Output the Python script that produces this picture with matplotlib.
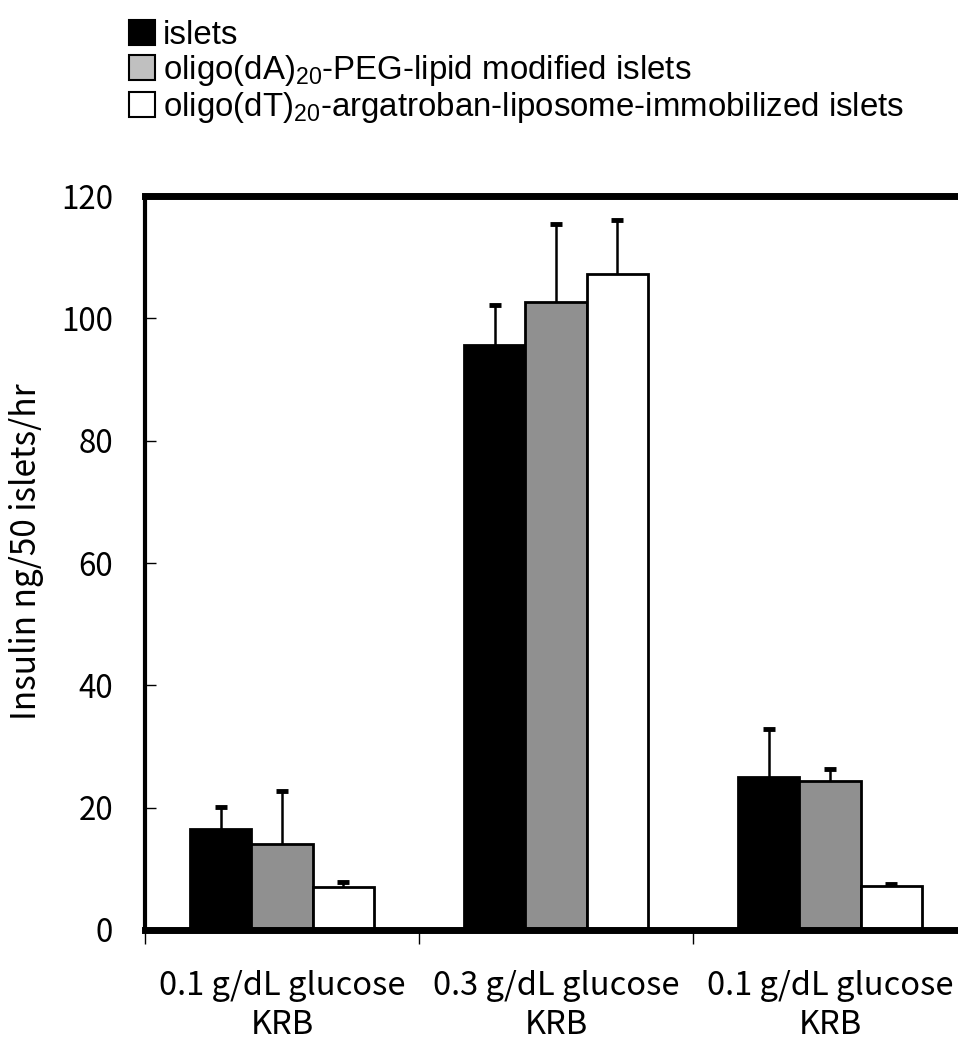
import matplotlib
matplotlib.use("Agg")
import matplotlib.pyplot as plt
from matplotlib.patches import Patch
import numpy as np

# insulin release, ng / 50 islets / hr
categories = ["0.1 g/dL glucose\nKRB", "0.3 g/dL glucose\nKRB", "0.1 g/dL glucose\nKRB"]
series_names = [
    "islets",
    "oligo(dA)$_{20}$-PEG-lipid modified islets",
    "oligo(dT)$_{20}$-argatroban-liposome-immobilized islets",
]
islets = [16.5, 95.7, 25.0]
islets_err = [3.6, 6.5, 7.8]
dA_peg = [14.1, 102.6, 24.3]
dA_peg_err = [8.6, 12.9, 2.1]
dT_arg = [7.0, 107.2, 7.2]
dT_arg_err = [0.8, 8.8, 0.4]

bar_colors = ["#000000", "#909090", "#ffffff"]
legend_colors = ["#000000", "#c0c0c0", "#ffffff"]

plt.rcParams["mathtext.fontset"] = "custom"
plt.rcParams["mathtext.rm"] = "Liberation Sans"
plt.rcParams["mathtext.it"] = "Liberation Sans"

tick_font = ["Noto Sans CJK JP", "DejaVu Sans"]

fig = plt.figure(figsize=(9.58, 10.43), dpi=100)
ax = fig.add_axes([145 / 958, 113 / 1043, 822 / 958, 734 / 1043])

x = np.arange(len(categories)) + 0.5
width = 0.223
for i, (vals, errs) in enumerate([(islets, islets_err), (dA_peg, dA_peg_err), (dT_arg, dT_arg_err)]):
    pos = x + (i - 1) * width
    ax.bar(pos, vals, width, color=bar_colors[i], edgecolor="black", linewidth=2, zorder=2)
    eb = ax.errorbar(pos, vals, yerr=[np.zeros(len(vals)), errs], fmt="none",
                     ecolor="black", elinewidth=1.8, capsize=4, capthick=3.5, zorder=3)
    # upper whisker only
    eb[1][0].set_visible(False)

ax.set_xlim(0, 3)
ax.set_ylim(0, 120)
ax.set_yticks(np.arange(0, 121, 20))
ax.tick_params(axis="y", direction="in", length=8, width=1, pad=23, labelsize=22.5)
for lab in ax.get_yticklabels():
    lab.set_family(tick_font)

# category boundaries as ticks, names centred between them
ax.set_xticks([0, 1, 2])
ax.set_xticklabels([])
ax.tick_params(axis="x", which="major", direction="out", length=10, width=1)
ax.set_xticks(x, minor=True)
ax.set_xticklabels(categories, minor=True, family=tick_font, fontsize=23.5, linespacing=1.25)
ax.tick_params(axis="x", which="minor", length=0, pad=29)

ax.spines["top"].set_linewidth(5)
ax.spines["bottom"].set_linewidth(5)
ax.spines["left"].set_linewidth(3)
ax.spines["right"].set_visible(False)

ax.set_ylabel("Insulin ng/50 islets/hr", family=tick_font, fontsize=24)
ax.yaxis.set_label_coords(-101 / 822, 0.516)

handles = [Patch(facecolor=c, edgecolor="black", linewidth=1.5) for c in legend_colors]
fig.legend(handles, series_names, loc="upper left", bbox_to_anchor=(129 / 958, 1 - 20 / 1043),
           frameon=False, prop={"family": "Liberation Sans", "size": 23.8},
           handlelength=0.78, handleheight=0.78, handletextpad=0.25, labelspacing=0.06,
           borderaxespad=0, borderpad=0)

fig.savefig("out.png", dpi=100)
